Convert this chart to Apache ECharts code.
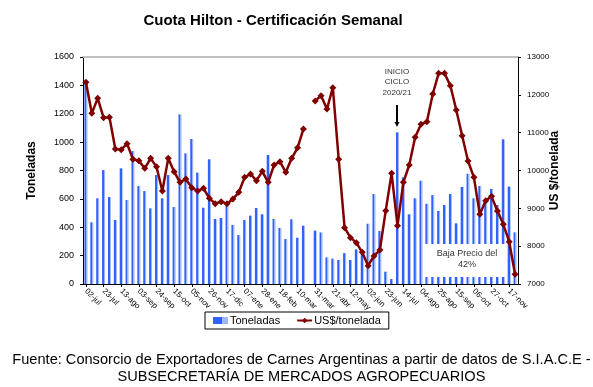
<!DOCTYPE html>
<html>
<head>
<meta charset="utf-8">
<script src="https://cdn.jsdelivr.net/npm/echarts@6/dist/echarts.min.js"></script>
<style>
html,body{margin:0;padding:0;background:#fff;}
#chart{width:593px;height:387px;}
</style>
</head>
<body>
<div id="chart"></div>
<script>
var categories = [
 '02-jul','09-jul','16-jul','23-jul','30-jul','06-ago','13-ago','20-ago','27-ago','03-sep','10-sep','17-sep','24-sep',
 '01-oct','08-oct','15-oct','22-oct','29-oct','05-nov','12-nov','19-nov','26-nov','03-dic','10-dic','17-dic','24-dic','31-dic',
 '07-ene','14-ene','21-ene','28-ene','04-feb','11-feb','18-feb','25-feb','03-mar','10-mar','17-mar','24-mar','31-mar',
 '07-abr','14-abr','21-abr','28-abr','05-may','12-may','19-may','26-may','02-jun','09-jun','16-jun','23-jun','30-jun',
 '07-jul','14-jul','21-jul','28-jul','04-ago','11-ago','18-ago','25-ago','01-sep','08-sep','15-sep','22-sep','29-sep',
 '06-oct','13-oct','20-oct','27-oct','03-nov','10-nov','17-nov','24-nov'
];
var toneladas = [
 1420,435,604,803,613,451,815,592,937,691,
 655,533,768,604,768,543,1196,921,1022,785,
 538,879,458,465,569,416,345,451,482,536,
 491,909,458,395,317,456,326,411,null,376,
 364,188,179,169,218,169,244,209,425,634,
 374,87,35,1069,752,491,604,728,566,627,
 515,557,634,428,684,777,604,691,580,670,
 557,1020,686,364
];
var precio = [
 12331,11511,11907,11396,11405,10568,10550,10709,10295,10260,
 10057,10321,10101,9458,10321,9969,9687,9775,9546,9458,
 9529,9264,9123,9176,9123,9247,9423,9819,9907,9731,
 9978,9687,10145,10233,9951,10321,10600,11097,null,11837,
 11978,11625,12189,10295,8489,8225,8093,7837,7485,7740,
 7899,8938,9925,8542,9687,10145,10877,11220,11290,12022,
 12568,12568,12242,11599,10920,10251,9819,8841,9203,9317,
 8929,8577,8119,7256
];
var tonTicks = {min:0, max:1600, interval:200};
var usdTicks = {min:7000, max:13000, interval:1000};

var chart = echarts.init(document.getElementById('chart'));
var font = 'Arial, "Liberation Sans", sans-serif';
var plain = function(v){ return String(v); };
chart.setOption({
  animation:false,
  backgroundColor:'#fff',
  title:[{
    text:'Cuota Hilton - Certificación Semanal',
    left:268, top:8, textAlign:'center',
    textStyle:{fontFamily:font,fontSize:15,fontWeight:'bold',color:'#000'}
  },{
    text:'Fuente: Consorcio de Exportadores de Carnes Argentinas a partir de datos de S.I.A.C.E -\nSUBSECRETARÍA DE MERCADOS AGROPECUARIOS',
    left:296.5, top:346, textAlign:'center',
    textStyle:{fontFamily:font,fontSize:14.6,fontWeight:'normal',color:'#000',lineHeight:17,align:'center'}
  }],
  legend:{
    left:205, top:312,
    padding:[3,8,3,8],
    borderColor:'#000', borderWidth:1,
    itemWidth:15, itemHeight:7, itemGap:16,
    textStyle:{fontFamily:font,fontSize:11,color:'#000',padding:[0,0,0,-3]},
    data:[{name:'Toneladas',icon:'rect'},{name:'US$/tonelada'}]
  },
  grid:{left:83,right:75,top:57,bottom:103},
  xAxis:[{
    type:'category', data:categories, boundaryGap:true,
    axisLine:{lineStyle:{color:'#000',width:1}},
    axisTick:{show:true,alignWithLabel:true,interval:2,length:3,lineStyle:{color:'#000'}},
    axisLabel:{interval:2,rotate:-45,fontFamily:font,fontSize:8,color:'#000',margin:6}
  },{
    type:'category', data:categories, position:'top',
    axisLine:{lineStyle:{color:'#c0c0c0',width:2}},
    axisTick:{show:false}, axisLabel:{show:false}
  }],
  yAxis:[{
    type:'value', min:tonTicks.min, max:tonTicks.max, interval:tonTicks.interval,
    name:'Toneladas', nameLocation:'middle', nameGap:45, nameRotate:90, nameMoveOverlap:false,
    nameTextStyle:{fontFamily:font,fontSize:12,fontWeight:'bold',color:'#000'},
    axisLine:{show:true,lineStyle:{color:'#000'}},
    axisTick:{show:true,length:3,lineStyle:{color:'#000'}},
    axisLabel:{fontFamily:font,fontSize:9,color:'#000',margin:9,formatter:plain},
    splitLine:{show:false}
  },{
    type:'value', min:usdTicks.min, max:usdTicks.max, interval:usdTicks.interval,
    position:'right',
    name:'US $/tonelada', nameLocation:'middle', nameGap:31, nameRotate:90, nameMoveOverlap:false,
    nameTextStyle:{fontFamily:font,fontSize:12,fontWeight:'bold',color:'#000'},
    axisLine:{show:true,lineStyle:{color:'#000'}},
    axisTick:{show:true,length:3,lineStyle:{color:'#000'}},
    axisLabel:{fontFamily:font,fontSize:8,color:'#000',margin:9,formatter:plain},
    splitLine:{show:false}
  }],
  series:[{
    name:'Toneladas', type:'bar', data:toneladas, yAxisIndex:0,
    barWidth:3,
    itemStyle:{color:new echarts.graphic.LinearGradient(0,0,1,0,[
      {offset:0,color:'#2f62ff'},{offset:0.62,color:'#2f62ff'},
      {offset:0.63,color:'#9fb6ff'},{offset:1,color:'#9fb6ff'}])},
    z:2
  },{
    name:'US$/tonelada', type:'line', data:precio, yAxisIndex:1,
    connectNulls:false, showSymbol:true, showAllSymbol:true,
    symbol:'diamond', symbolSize:7,
    lineStyle:{color:'#800000',width:2.5},
    itemStyle:{color:'#800000'},
    z:5
  }],
  graphic:[
    {type:'rect',shape:{x:425,y:244,width:82,height:33},style:{fill:'#fff'},z:100},
    {type:'text',x:467,y:254,z:101,style:{text:'Baja Precio del',font:'9px '+font,fill:'#333',align:'center',verticalAlign:'middle'}},
    {type:'text',x:467,y:265,z:101,style:{text:'42%',font:'9px '+font,fill:'#333',align:'center',verticalAlign:'middle'}},
    {type:'text',x:397,y:72,z:101,style:{text:'INICIO',font:'8px '+font,fill:'#333',align:'center',verticalAlign:'middle'}},
    {type:'text',x:397,y:82,z:101,style:{text:'CICLO',font:'8px '+font,fill:'#333',align:'center',verticalAlign:'middle'}},
    {type:'text',x:397,y:93,z:101,style:{text:'2020/21',font:'8px '+font,fill:'#333',align:'center',verticalAlign:'middle'}},
    {type:'line',z:101,shape:{x1:397,y1:105,x2:397,y2:123},style:{stroke:'#000',lineWidth:2}},
    {type:'polygon',z:101,shape:{points:[[394.5,122],[399.5,122],[397,127]]},style:{fill:'#000'}}
  ]
});
</script>
</body>
</html>
